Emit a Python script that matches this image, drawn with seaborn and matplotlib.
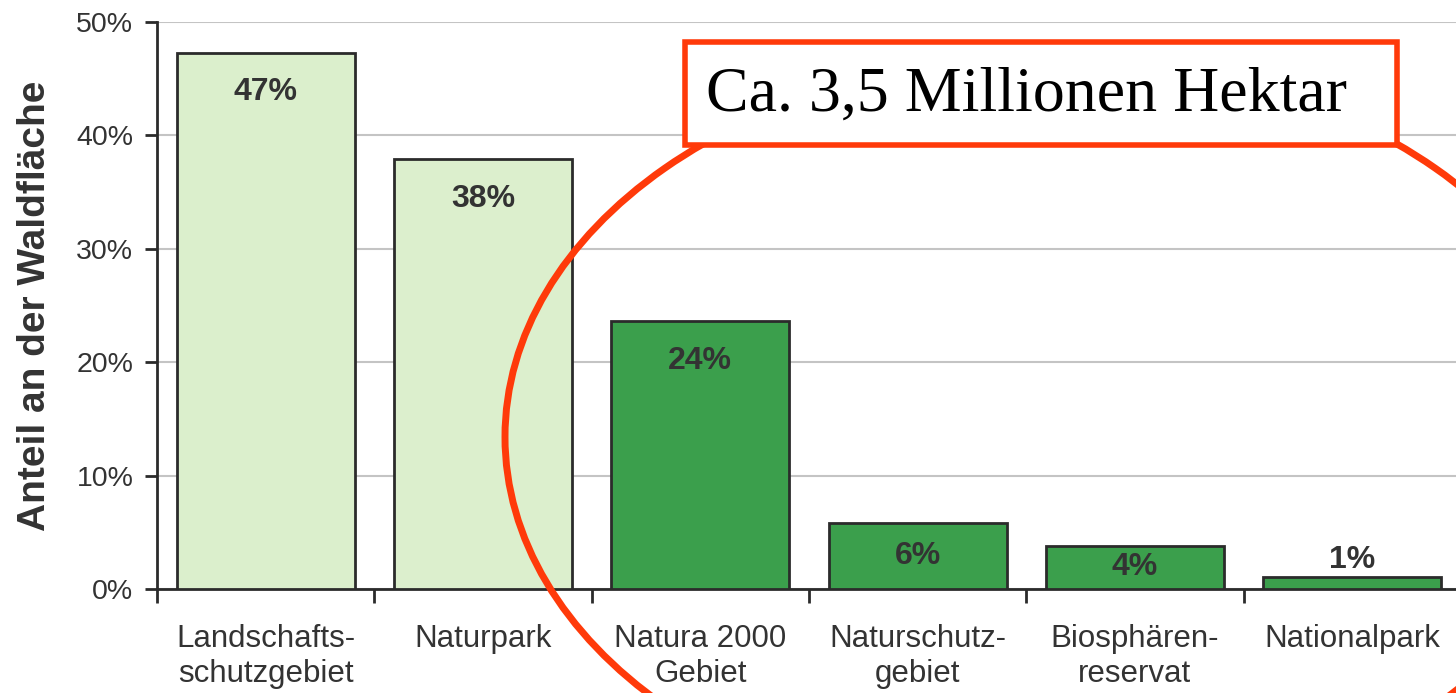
import matplotlib
matplotlib.use("Agg")
import matplotlib.pyplot as plt
from matplotlib.patches import Ellipse, Rectangle
from matplotlib.ticker import FixedLocator, NullFormatter
import seaborn as sns
import pandas as pd

# Schutzgebietskategorien und Anteil an der Waldfläche (%)
categories = [
    "Landschafts-\nschutzgebiet",
    "Naturpark",
    "Natura 2000\nGebiet",
    "Naturschutz-\ngebiet",
    "Biosphären-\nreservat",
    "Nationalpark",
]
shares = [47.3, 37.9, 23.6, 5.8, 3.8, 1.05]
bar_colors = ["#dbefcc", "#dcefcd", "#3b9f4c", "#3b9f4c", "#3b9f4c", "#3b9f4c"]
y_ticks = [0, 10, 20, 30, 40, 50]
note_text = "Ca. 3,5 Millionen Hektar"

TEXT = "#333333"
RED = "#ff3a0a"

sns.set_style("white")
plt.rcParams["font.family"] = ["Liberation Sans", "DejaVu Sans"]

df = pd.DataFrame({"kategorie": categories, "anteil": shares})

fig = plt.figure(figsize=(14.56, 6.93), dpi=100)
ax = fig.add_axes([157 / 1456, 104 / 693, 1304 / 1456, 567 / 693])

sns.barplot(
    data=df,
    x="kategorie",
    y="anteil",
    hue="kategorie",
    palette=bar_colors,
    legend=False,
    width=0.82,
    edgecolor="#2b2b2b",
    linewidth=2,
    saturation=1,
    ax=ax,
    zorder=3,
)

# value labels: inside tall bars, centred in short ones, above the smallest
for i, v in enumerate(shares):
    if v > 10:
        y = v - 3.5
    elif v > 3:
        y = v / 2
    else:
        y = v + 1.5
    ax.text(i, y, f"{round(v)}%", ha="center", va="center", fontsize=23,
            fontweight="bold", color=TEXT, zorder=4)

ax.set_xlim(-0.5, len(categories) - 0.5)
ax.set_ylim(0, 50)
ax.set_yticks(y_ticks)
ax.set_yticklabels([f"{t}%" for t in y_ticks])

# ticks between categories, labels under the centres
ax.xaxis.set_major_locator(FixedLocator([i - 0.5 for i in range(len(categories) + 1)]))
ax.xaxis.set_major_formatter(NullFormatter())
ax.xaxis.set_minor_locator(FixedLocator(list(range(len(categories)))))
ax.set_xticklabels(categories, minor=True, linespacing=1.25)
ax.tick_params(axis="x", which="major", direction="out", length=10, width=2, color="#2b2b2b", bottom=True)
ax.tick_params(axis="x", which="minor", length=0, pad=25, labelsize=22.5, labelcolor=TEXT)
ax.tick_params(axis="y", direction="out", length=9, width=2, color="#2b2b2b", left=True,
               labelsize=20.5, labelcolor=TEXT, pad=8)

ax.set_xlabel("")
ax.set_ylabel("Anteil an der Waldfläche", fontsize=28, fontweight="bold", color=TEXT)
ax.yaxis.set_label_coords(-0.08, 0.5)

ax.yaxis.grid(True, color="#c4c4c4", linewidth=1.5, zorder=0)
ax.set_axisbelow(True)
for side in ["top", "right"]:
    ax.spines[side].set_visible(False)
for side in ["left", "bottom"]:
    ax.spines[side].set_color("#2b2b2b")
    ax.spines[side].set_linewidth(2)

# red annotation drawn on top: ellipse and box
ell = Ellipse((1050 / 1456, 1 - 437 / 693), 1090 / 1456, 760 / 693, transform=fig.transFigure,
              fill=False, edgecolor=RED, linewidth=5, zorder=10)
fig.add_artist(ell)
box = Rectangle((685 / 1456, 1 - 145 / 693), 712 / 1456, 103 / 693, transform=fig.transFigure,
                facecolor="white", edgecolor=RED, linewidth=4, zorder=11)
fig.add_artist(box)
fig.text(1026 / 1456, 1 - 96 / 693, note_text, ha="center", va="center",
         fontsize=46, family=["Liberation Serif", "DejaVu Serif"], color="black", zorder=12)

fig.savefig("out.png", dpi=100)
